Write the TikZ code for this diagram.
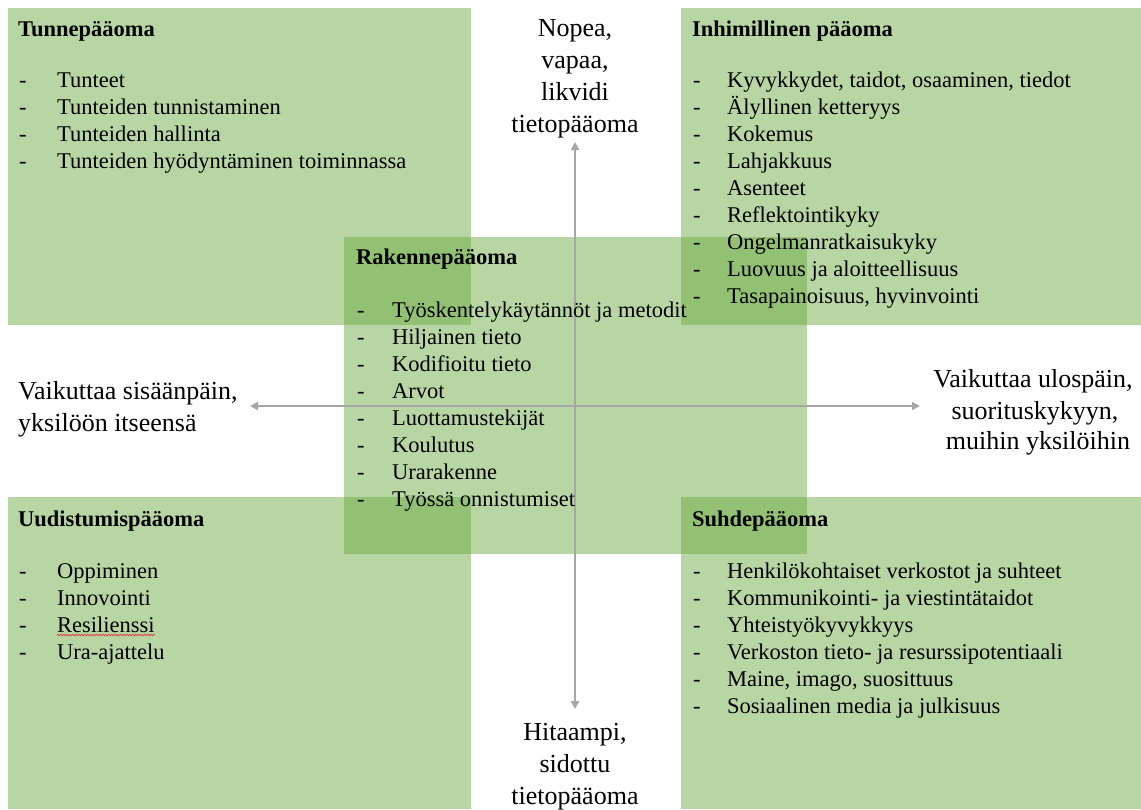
\documentclass[tikz,border=0pt]{standalone}
\usepackage{fontspec}
\setmainfont{Liberation Serif}
\usetikzlibrary{arrows.meta,decorations.pathmorphing}
\definecolor{capgreen}{HTML}{70AD47}
\definecolor{axisgray}{HTML}{A6A6A6}
\definecolor{spellred}{HTML}{E8363B}
\begin{document}
\begin{tikzpicture}[x=1pt,y=-1pt,
  capbox/.style={fill=capgreen,fill opacity=0.5,draw=none,inner sep=0pt,
    anchor=north west},
  boxtitle/.style={anchor=base west,inner sep=0pt,
    font=\fontsize{22.5}{27}\selectfont\bfseries},
  itemdash/.style={anchor=base west,inner sep=0pt,
    font=\fontsize{22.5}{27}\selectfont},
  itemtext/.style={anchor=base west,inner sep=0pt,
    font=\fontsize{22.5}{27}\selectfont},
  axislabel/.style={anchor=base,inner sep=0pt,
    font=\fontsize{26}{32}\selectfont},
  axisarrow/.style={draw=axisgray,line width=2pt,
    {Triangle[length=8pt,width=8pt]}-{Triangle[length=8pt,width=8pt]}}]
\useasboundingbox (0,0) rectangle (1141,809);

% four capital quadrants and the structural capital in the middle
\node[capbox,minimum width=463pt,minimum height=317pt] (tl) at (8,8) {};
\node[capbox,minimum width=463pt,minimum height=317pt] (mid) at (344,237) {};
\node[capbox,minimum width=460pt,minimum height=317pt] (tr) at (681,8) {};
\node[capbox,minimum width=463pt,minimum height=312pt] (bl) at (8,497) {};
\node[capbox,minimum width=460pt,minimum height=312pt] (br) at (681,497) {};

% axes
\coordinate (ytop) at (575,142);
\coordinate (ybot) at (575,709);
\coordinate (xleft) at (250,406);
\coordinate (xright) at (920,406);
\draw[axisarrow] (ybot) -- (ytop);
\draw[axisarrow] (xleft) -- (xright);

% axis labels
\foreach \t [count=\i] in {{Nopea,}, {vapaa,}, likvidi, tietopääoma}
  \node[axislabel] (top\i) at (575,{27+32*(\i-1)+9}) {\t};
\foreach \t [count=\i] in {{Hitaampi,}, sidottu, tietopääoma}
  \node[axislabel] (bot\i) at (575,{731+32*(\i-1)+9}) {\t};
\node[axislabel,anchor=base west] (left1) at (18,399) {Vaikuttaa sisäänpäin,};
\node[axislabel,anchor=base west] (left2) at (18,431) {yksilöön itseensä};
\node[axislabel] (right1) at (1033,387) {Vaikuttaa ulospäin,};
\node[axislabel] (right2) at (1035,419) {suorituskykyyn,};
\node[axislabel] (right3) at (1038,449) {muihin yksilöihin};

% Tunnepääoma
\node[boxtitle] (tlt) at (18,36) {Tunnepääoma};
\foreach \t [count=\i] in {Tunteet, Tunteiden tunnistaminen, Tunteiden hallinta,
    Tunteiden hyödyntäminen toiminnassa} {
  \node[itemdash] (tld\i) at (19,{87+27*(\i-1)}) {-};
  \node[itemtext] (tli\i) at (57,{87+27*(\i-1)}) {\t};
}

% Inhimillinen pääoma
\node[boxtitle] (trt) at (692,36) {Inhimillinen pääoma};
\foreach \t [count=\i] in {{Kyvykkydet, taidot, osaaminen, tiedot},
    Älyllinen ketteryys, Kokemus, Lahjakkuus, Asenteet, Reflektointikyky,
    Ongelmanratkaisukyky, Luovuus ja aloitteellisuus,
    {Tasapainoisuus, hyvinvointi}} {
  \node[itemdash] (trd\i) at (693,{87+27*(\i-1)}) {-};
  \node[itemtext] (tri\i) at (727,{87+27*(\i-1)}) {\t};
}

% Rakennepääoma
\node[boxtitle] (midt) at (356,264) {Rakennepääoma};
\foreach \t [count=\i] in {Työskentelykäytännöt ja metodit, Hiljainen tieto,
    Kodifioitu tieto, Arvot, Luottamustekijät, Koulutus, Urarakenne,
    Työssä onnistumiset} {
  \node[itemdash] (midd\i) at (357,{317+27*(\i-1)}) {-};
  \node[itemtext] (midi\i) at (392,{317+27*(\i-1)}) {\t};
}

% Uudistumispääoma
\node[boxtitle] (blt) at (18,526) {Uudistumispääoma};
\foreach \t [count=\i] in {Oppiminen, Innovointi, Resilienssi, Ura-ajattelu} {
  \node[itemdash] (bld\i) at (19,{578+27*(\i-1)}) {-};
  \node[itemtext] (bli\i) at (57,{578+27*(\i-1)}) {\t};
}
\draw[spellred,line width=0.7pt,decorate,
  decoration={snake,amplitude=0.8pt,segment length=3pt}]
  ([yshift=-3pt]bli3.base west) -- ([yshift=-3pt]bli3.base east);

% Suhdepääoma
\node[boxtitle] (brt) at (692,526) {Suhdepääoma};
\foreach \t [count=\i] in {Henkilökohtaiset verkostot ja suhteet,
    Kommunikointi- ja viestintätaidot, Yhteistyökyvykkyys,
    Verkoston tieto- ja resurssipotentiaali, {Maine, imago, suosittuus},
    Sosiaalinen media ja julkisuus} {
  \node[itemdash] (brd\i) at (693,{578+27*(\i-1)}) {-};
  \node[itemtext] (bri\i) at (727,{578+27*(\i-1)}) {\t};
}
\end{tikzpicture}
\end{document}
